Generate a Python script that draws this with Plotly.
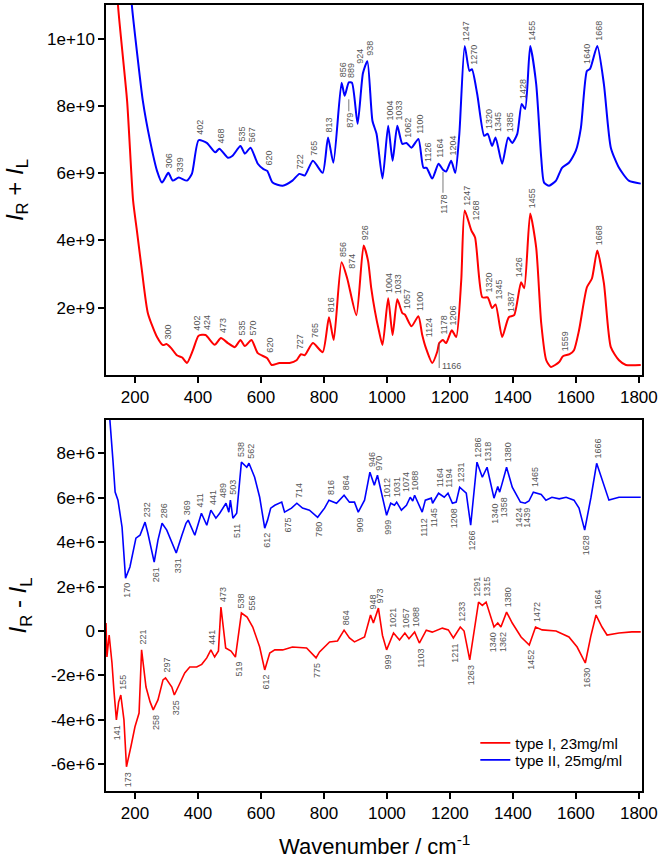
import numpy as np
import plotly.graph_objects as go

# ---------------- data ----------------
# top panel: I_R + I_L  (units 1e9)
top_x_t2 = [175, 190, 206, 225, 248, 270, 286, 306, 320, 339, 365, 381, 402, 428, 455, 468, 495, 510,
            535, 549, 567, 590, 608, 620, 637, 669, 700, 722, 739, 765, 796, 813, 830, 856, 866, 879,
            889, 907, 924, 938, 954, 967, 986, 1004, 1018, 1033, 1049, 1062, 1078, 1100, 1116, 1126,
            1144, 1164, 1178, 1188, 1204, 1217, 1230, 1247, 1262, 1270, 1287, 1309, 1320, 1334, 1345,
            1366, 1385, 1398, 1414, 1428, 1439, 1455, 1474, 1490, 1499, 1515, 1537, 1556, 1578, 1600,
            1616, 1635, 1645, 1668, 1689, 1711, 1737, 1768, 1806]
top_y_t2 = [13.0, 11.0, 9.63, 8.15, 6.96, 6.07, 5.72, 6.01, 5.78, 5.87, 5.78, 5.99, 6.98, 6.90, 6.62,
            6.73, 6.46, 6.52, 6.81, 6.58, 6.76, 6.28, 6.12, 6.07, 5.72, 5.63, 5.78, 5.98, 5.93, 6.37,
            6.01, 7.06, 6.31, 8.69, 8.30, 8.70, 8.69, 7.47, 8.98, 9.33, 7.56, 7.17, 5.84, 7.41, 6.37,
            7.41, 6.87, 6.90, 6.76, 7.02, 6.16, 6.16, 5.84, 6.28, 6.10, 6.05, 6.37, 6.01, 7.17, 9.78,
            9.04, 9.09, 8.34, 7.11, 7.17, 6.81, 7.06, 6.28, 7.06, 6.90, 7.17, 8.06, 7.91, 9.78, 8.65,
            6.46, 5.72, 5.63, 5.78, 6.16, 6.31, 6.67, 7.35, 9.04, 9.10, 9.78, 8.65, 6.76, 6.16, 5.78, 5.69]

top_x_t1 = [130, 146, 175, 194, 206, 222, 241, 270, 289, 300, 315, 333, 350, 365, 384, 402, 424, 453,
            473, 495, 517, 535, 549, 570, 590, 620, 634, 659, 691, 713, 727, 739, 765, 796, 816, 831,
            856, 874, 903, 926, 940, 950, 962, 975, 986, 1004, 1018, 1033, 1049, 1057, 1078, 1100,
            1112, 1124, 1144, 1160, 1166, 1178, 1188, 1206, 1220, 1236, 1247, 1268, 1280, 1303, 1320,
            1334, 1345, 1366, 1387, 1404, 1426, 1436, 1455, 1474, 1490, 1506, 1521, 1547, 1559, 1580,
            1594, 1610, 1635, 1651, 1668, 1689, 1711, 1737, 1759, 1806]
top_y_t1 = [14.0, 11.0, 8.15, 5.19, 4.30, 3.11, 1.84, 1.13, 0.89, 0.92, 0.80, 0.59, 0.52, 0.36, 0.74,
            1.17, 1.19, 0.90, 1.10, 0.95, 0.83, 1.04, 0.86, 1.04, 0.65, 0.50, 0.30, 0.36, 0.36, 0.44,
            0.62, 0.59, 0.95, 0.68, 1.72, 1.04, 3.35, 2.87, 1.78, 3.85, 3.40, 2.60, 1.90, 1.30, 0.89,
            2.28, 1.19, 2.25, 1.84, 1.80, 1.45, 1.75, 1.20, 0.80, 0.36, 0.70, 0.95, 1.04, 0.95, 1.33,
            1.13, 2.81, 4.89, 4.30, 4.09, 2.31, 2.31, 1.99, 2.10, 1.13, 1.72, 1.78, 2.76, 2.58, 4.80,
            3.79, 1.54, 0.44, 0.24, 0.39, 0.56, 0.62, 0.74, 1.33, 2.61, 2.87, 3.70, 2.73, 0.83, 0.44,
            0.30, 0.30]

# bottom panel: I_R - I_L  (units 1e6)
bot_x_t2 = [115, 121, 130, 137, 146, 159, 170, 184, 194, 203, 216, 232, 241, 254, 261, 273, 286, 301,
            317, 331, 349, 362, 369, 390, 411, 428, 441, 457, 469, 489, 498, 503, 511, 523, 538, 555,
            562, 580, 596, 612, 621, 631, 644, 666, 675, 697, 714, 732, 754, 780, 802, 816, 840, 864,
            881, 897, 909, 929, 946, 960, 970, 989, 999, 1012, 1024, 1031, 1046, 1062, 1074, 1082,
            1088, 1112, 1122, 1141, 1145, 1164, 1182, 1194, 1208, 1220, 1231, 1252, 1266, 1286, 1303,
            1318, 1340, 1352, 1358, 1365, 1380, 1398, 1424, 1439, 1451, 1465, 1490, 1505, 1524, 1547,
            1569, 1594, 1610, 1628, 1648, 1666, 1680, 1696, 1705, 1737, 1778, 1806]
bot_y_t2 = [10.5, 9.48, 7.69, 6.25, 5.89, 4.67, 2.38, 2.88, 3.51, 4.18, 4.31, 4.90, 4.40, 3.64, 3.10,
            4.09, 4.85, 4.54, 4.00, 3.51, 4.31, 4.85, 4.99, 4.31, 5.30, 4.76, 5.44, 5.08, 5.30, 5.75,
            5.35, 5.89, 5.08, 5.30, 7.60, 7.37, 7.55, 6.92, 6.02, 4.63, 4.99, 5.53, 5.66, 5.80, 5.35,
            5.53, 5.75, 5.53, 5.44, 5.12, 5.53, 5.89, 5.75, 6.11, 5.80, 5.80, 5.35, 5.89, 7.15, 6.56,
            7.01, 5.89, 5.21, 5.75, 5.66, 5.80, 5.44, 5.66, 6.02, 5.85, 6.11, 5.35, 5.89, 5.98, 5.75,
            6.20, 6.02, 6.20, 5.75, 5.80, 6.47, 6.20, 4.76, 7.60, 6.92, 7.37, 5.98, 6.50, 6.25, 6.60,
            7.37, 6.47, 5.80, 5.75, 5.85, 6.25, 6.15, 5.89, 6.02, 5.95, 6.02, 5.89, 5.53, 4.54, 6.02,
            7.55, 6.92, 6.20, 5.89, 6.02, 6.02, 6.02]

bot_x_t1 = [108, 111, 118, 127, 133, 141, 148, 155, 165, 173, 187, 200, 213, 221, 235, 248, 258, 273,
            289, 297, 317, 325, 343, 358, 374, 396, 412, 428, 441, 453, 465, 473, 488, 505, 519, 538,
            556, 574, 596, 612, 628, 644, 669, 700, 745, 775, 786, 818, 843, 864, 881, 897, 929, 948,
            957, 973, 986, 999, 1021, 1040, 1057, 1070, 1088, 1103, 1125, 1144, 1176, 1195, 1211,
            1233, 1245, 1263, 1291, 1303, 1315, 1340, 1352, 1362, 1380, 1398, 1426, 1452, 1472, 1493,
            1537, 1578, 1604, 1630, 1648, 1664, 1683, 1699, 1737, 1778, 1806]
bot_y_t1 = [0.36, -1.17, -0.18, -1.44, -2.65, -4.00, -3.20, -2.88, -4.00, -6.11, -5.21, -4.31, -3.69,
            -0.85, -2.52, -3.19, -3.55, -3.10, -2.20, -2.11, -2.52, -2.88, -2.34, -1.89, -1.62, -1.62,
            -1.50, -1.21, -0.85, -1.17, -0.90, 1.08, -0.76, -0.90, -1.17, 0.81, 0.63, 0.18, -0.72,
            -1.75, -0.99, -0.85, -0.85, -0.72, -0.76, -1.21, -0.94, -0.49, -0.45, 0.04, -0.31, -0.49,
            -0.27, 0.72, 0.36, 1.03, -0.20, -0.85, -0.09, -0.40, -0.09, -0.35, -0.04, -0.54, 0.04,
            -0.05, 0.13, 0.05, -0.31, 0.18, 0.00, -1.30, 1.30, 1.15, 1.30, 0.18, 0.36, 0.18, 0.85,
            0.36, -0.27, -0.63, 0.18, 0.05, 0.00, -0.27, -0.72, -1.44, -0.20, 0.72, 0.18, -0.18, -0.09,
            -0.04, -0.04]

# peak labels
top_t2_up = [306, 339, 402, 468, 535, 567, 620, 722, 765, 813, 856, 889, 924, 938, 1004, 1033, 1062,
             1100, 1126, 1164, 1204, 1247, 1270, 1320, 1345, 1385, 1428, 1455, 1640, 1668]
top_t2_lead = [879, 1178]
top_t1_up = [300, 402, 424, 473, 535, 570, 620, 727, 765, 816, 856, 874, 926, 1004, 1033, 1057, 1100,
             1124, 1178, 1206, 1247, 1268, 1320, 1345, 1387, 1426, 1455, 1559, 1668]
top_t1_lead = [1166]

bot_t2_up = [232, 286, 369, 411, 441, 489, 503, 538, 562, 714, 816, 864, 946, 970, 1012, 1031, 1074,
             1088, 1164, 1194, 1231, 1286, 1318, 1380, 1465, 1666]
bot_t2_down = [170, 261, 331, 511, 612, 675, 780, 909, 999, 1112, 1145, 1208, 1266, 1340, 1358, 1424,
               1439, 1628]
bot_t1_up = [155, 221, 297, 441, 473, 538, 556, 864, 948, 973, 1021, 1057, 1088, 1233, 1291, 1315,
             1380, 1472, 1664]
bot_t1_down = [141, 173, 258, 325, 519, 612, 775, 999, 1103, 1211, 1263, 1340, 1362, 1452, 1630]

x_ticks = [200, 400, 600, 800, 1000, 1200, 1400, 1600, 1800]
top_ticks = [2e9, 4e9, 6e9, 8e9, 1e10]
top_ticktext = ["2e+9", "4e+9", "6e+9", "8e+9", "1e+10"]
bot_ticks = [-6e6, -4e6, -2e6, 0, 2e6, 4e6, 6e6, 8e6]
bot_ticktext = ["-6e+6", "-4e+6", "-2e+6", "0", "2e+6", "4e+6", "6e+6", "8e+6"]

names = ["type I, 23mg/ml", "type II, 25mg/ml"]
RED = "#ff0000"
BLUE = "#0000ff"

# label horizontal nudges (px) to keep crowded labels apart, as in the original
NUDGE_TOP_T2 = {924: -2.5, 938: 2.7, 889: -1.0, 1270: 2.5, 1345: 2.0, 468: 2.0, 1640: -1.5}
NUDGE_TOP_T1 = {402: -2.0, 424: 1.0, 874: 4.0, 1268: 4.6, 1345: 3.6, 1426: -1.9, 727: -1.3,
                620: 2.5, 1124: 2.7}
NUDGE_BOT_T2 = {489: -2.8, 503: 2.7, 1012: -3.0, 1031: 0.3, 1074: -3.5, 1088: 0.8, 1358: 4.5,
                1424: -1.5, 1439: 2.4, 369: -1.7, 411: -1.6, 511: 3.5, 675: 3.4, 538: -1.0, 562: 2.0}
NUDGE_BOT_T1 = {556: 5.0, 258: 3.4, 519: 2.6, 1021: -0.8, 538: -0.5, 1340: -0.8, 1291: -1.0,
                1362: 2.0}
DEFAULT_NUDGE = 1.5

# ---------------- figure ----------------
t2x, t2y = np.array(top_x_t2, float), np.array(top_y_t2) * 1e9
t1x, t1y = np.array(top_x_t1, float), np.array(top_y_t1) * 1e9
b2x, b2y = np.array(bot_x_t2, float), np.array(bot_y_t2) * 1e6
b1x, b1y = np.array(bot_x_t1, float), np.array(bot_y_t1) * 1e6

H, W = 861, 661
M_L, M_R, M_T, M_B = 106, 18, 3, 70
PLOT_H = H - M_T - M_B
top_dom = [0.5292, 1.0]
bot_dom = [0.0, 0.4721]
top_range = [0, 1.1e10]
bot_range = [-7.2e6, 9.5e6]
top_dpp = (top_range[1] - top_range[0]) / (PLOT_H * (top_dom[1] - top_dom[0]))

fig = go.Figure()
fig.add_trace(go.Scatter(x=t1x, y=t1y, mode="lines", line=dict(color=RED, width=2, shape="spline", smoothing=0.6),
                         showlegend=False, xaxis="x", yaxis="y", hoverinfo="skip"))
fig.add_trace(go.Scatter(x=t2x, y=t2y, mode="lines", line=dict(color=BLUE, width=2, shape="spline", smoothing=0.6),
                         showlegend=False, xaxis="x", yaxis="y", hoverinfo="skip"))
fig.add_trace(go.Scatter(x=b1x, y=b1y, mode="lines", line=dict(color=RED, width=1.6),
                         name=names[0], xaxis="x2", yaxis="y2", legend="legend"))
fig.add_trace(go.Scatter(x=b2x, y=b2y, mode="lines", line=dict(color=BLUE, width=1.6),
                         name=names[1], xaxis="x2", yaxis="y2", legend="legend2"))

FONT = "Liberation Sans, Arial, sans-serif"
LBL = dict(size=9, color="#555555", family=FONT)
GAP = 5


def local(xs, ys, v, up):
    g = np.linspace(v - 5, v + 5, 21)
    vals = np.interp(g, xs, ys)
    return vals.max() if up else vals.min()


def labels(vals, xs, ys, up, xr, yr, nudge):
    for v in vals:
        yv = local(xs, ys, v, up)
        half = len(str(v)) * 5.0 / 2
        shift = GAP + half
        fig.add_annotation(x=v, y=yv, xref=xr, yref=yr, text=str(v), textangle=-90, showarrow=False,
                           font=LBL, xanchor="center", yanchor="middle",
                           xshift=nudge.get(v, DEFAULT_NUDGE), yshift=shift if up else -shift)


def leader(v, xs, ys, s1, s2, rotated=True):
    yv = float(np.interp(v, xs, ys))
    fig.add_shape(type="line", xref="x", yref="y", x0=v, x1=v,
                  y0=yv - s1 * top_dpp, y1=yv - s2 * top_dpp,
                  line=dict(color="#555555", width=0.8))
    if rotated:
        half = len(str(v)) * 5.0 / 2
        fig.add_annotation(x=v, y=yv, xref="x", yref="y", text=str(v), textangle=-90, showarrow=False,
                           font=LBL, xanchor="center", yanchor="middle", xshift=1.0,
                           yshift=-(s2 + 1 + half))
    else:
        fig.add_annotation(x=v, y=yv, xref="x", yref="y", text=str(v), showarrow=False, font=LBL,
                           xanchor="left", yanchor="middle", yshift=-(s2 - 2), xshift=1)


labels(top_t2_up, t2x, t2y, True, "x", "y", NUDGE_TOP_T2)
labels(top_t1_up, t1x, t1y, True, "x", "y", NUDGE_TOP_T1)
leader(top_t2_lead[0], t2x, t2y, 17, 29)
leader(top_t2_lead[1], t2x, t2y, 2, 23)
leader(top_t1_lead[0], t1x, t1y, 0, 25, rotated=False)

labels(bot_t2_up, b2x, b2y, True, "x2", "y2", NUDGE_BOT_T2)
labels(bot_t2_down, b2x, b2y, False, "x2", "y2", NUDGE_BOT_T2)
labels(bot_t1_up, b1x, b1y, True, "x2", "y2", NUDGE_BOT_T1)
labels(bot_t1_down, b1x, b1y, False, "x2", "y2", NUDGE_BOT_T1)

axis_common = dict(showline=True, linecolor="black", linewidth=1.5, mirror=True, ticks="outside",
                   ticklen=6, tickwidth=1.5, tickcolor="black", showgrid=False, zeroline=False,
                   tickfont=dict(size=17, color="black", family=FONT))
ytitle_font = dict(size=24, color="black", family=FONT)

leg_common = dict(xanchor="left", yanchor="middle", bgcolor="rgba(0,0,0,0)",
                  font=dict(size=15, color="black", family=FONT))

fig.update_layout(
    width=W, height=H,
    margin=dict(l=M_L, r=M_R, t=M_T, b=M_B),
    paper_bgcolor="white", plot_bgcolor="white",
    font=dict(family=FONT, color="black"),
    xaxis=dict(domain=[0, 1], anchor="y", range=[108, 1810], tickvals=x_ticks, **axis_common),
    yaxis=dict(domain=top_dom, anchor="x", range=top_range, tickvals=top_ticks, ticktext=top_ticktext,
               title=dict(text="<i>I</i><sub>R</sub> + <i>I</i><sub>L</sub>", font=ytitle_font, standoff=17),
               **axis_common),
    xaxis2=dict(domain=[0, 1], anchor="y2", range=[108, 1810], tickvals=x_ticks, **axis_common),
    yaxis2=dict(domain=bot_dom, anchor="x2", range=bot_range, tickvals=bot_ticks,
                ticktext=bot_ticktext,
                title=dict(text="<i>I</i><sub>R</sub> - <i>I</i><sub>L</sub>", font=ytitle_font, standoff=17),
                **axis_common),
    legend=dict(x=(476 - M_L) / 537, y=(791 - 743) / PLOT_H, **leg_common),
    legend2=dict(x=(476 - M_L) / 537, y=(791 - 760) / PLOT_H, **leg_common),
)

fig.add_annotation(xref="paper", yref="paper", x=0.5, y=(791 - 845) / PLOT_H,
                   text="Wavenumber / cm<sup>-1</sup>", showarrow=False,
                   font=dict(size=22, color="black", family=FONT), xanchor="center", yanchor="middle")

fig.write_html("out.html")
